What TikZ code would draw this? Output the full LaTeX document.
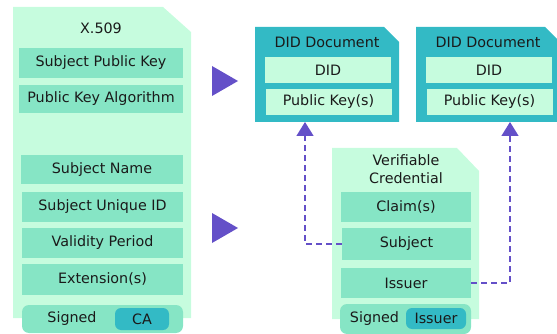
\documentclass[tikz,border=0pt]{standalone}
\usepackage{fontspec}
\setmainfont{DejaVu Sans}
\usetikzlibrary{arrows.meta}

\definecolor{palegreen}{HTML}{C6FCDE}
\definecolor{midgreen}{HTML}{86E5C5}
\definecolor{didteal}{HTML}{33BAC5}
\definecolor{linkpurple}{HTML}{6450C8}
\definecolor{inkgrey}{HTML}{1A1A1A}

\tikzset{
  field/.style={fill=midgreen,text=inkgrey,inner sep=0pt,minimum height=30pt},
  didfield/.style={fill=palegreen,text=inkgrey,inner sep=0pt,minimum width=126pt,minimum height=26pt},
  signbar/.style={fill=midgreen,rounded corners=7pt,inner sep=0pt,minimum height=28pt},
  signtag/.style={fill=didteal,text=inkgrey,rounded corners=6pt,inner sep=0pt,minimum height=22pt},
  link/.style={draw=linkpurple,line width=1.4pt,dash pattern=on 6pt off 4pt,
    -{Triangle[width=17pt,length=14pt]}},
}

\begin{document}
\begin{tikzpicture}[x=1pt,y=-1pt,font=\fontsize{14.3}{17}\selectfont,text=inkgrey]

        \useasboundingbox (0,0) rectangle (557,334);
        \clip (0,0) rectangle (557,334);

        % documents
        \fill[palegreen] (13,7) -- (163,7) -- (191,32) -- (191,318) -- (13,318) -- cycle;
        \fill[didteal] (255,27) -- (384,27) -- (399,42) -- (399,122) -- (255,122) -- cycle;
        \fill[didteal] (416,27) -- (545,27) -- (560,42) -- (560,122) -- (416,122) -- cycle;
        \fill[palegreen] (332,148) -- (457,148) -- (479,171) -- (479,319) -- (332,319) -- cycle;

        % X.509 certificate
        \node (x509) at (101,28) {X.509};
        \begin{scope}[every node/.style={field}]
          \node[minimum width=164pt] (spk)  at (101,63)    {Subject Public Key};
          \node[minimum width=164pt,minimum height=28pt] (pka) at (101,99) {Public Key Algorithm};
          \node[minimum width=162pt,minimum height=29pt] (sn) at (102,169.5) {Subject Name};
          \node[minimum width=161pt] (suid) at (102.5,207) {Subject Unique ID};
          \node[minimum width=161pt] (vp)   at (102.5,243) {Validity Period};
          \node[minimum width=161pt,minimum height=31pt] (ext) at (102.5,279.5) {Extension(s)};
        \end{scope}
        \node[signbar,minimum width=161pt] (sig1) at (102.5,319) {};
        \node (sigtxt1) at (72,319) {Signed};
        \node[signtag,minimum width=54pt] (ca) at (142,319) {CA};

        % DID documents
        \node (didtitle1) at (327,42) {DID Document};
        \node (didtitle2) at (488,42) {DID Document};
        \begin{scope}[every node/.style={didfield}]
          \node (did1) at (328,70)    {DID};
          \node (pk1)  at (328.5,102) {Public Key(s)};
          \node (did2) at (489,70)    {DID};
          \node (pk2)  at (489.5,102) {Public Key(s)};
        \end{scope}
        \coordinate (doc1s) at (305,122);
        \coordinate (doc2s) at (510,122);

        % verifiable credential
        \node[align=center,font=\fontsize{14.3}{18}\selectfont] (vc) at (406,169) {Verifiable\\Credential};
        \begin{scope}[every node/.style={field}]
          \node[minimum width=130pt] (claim) at (406,207)   {Claim(s)};
          \node[minimum width=129pt,minimum height=32pt] (subj) at (406.5,244) {Subject};
          \node[minimum width=130pt] (iss)   at (406,283)   {Issuer};
        \end{scope}
        \node[signbar,minimum width=131pt,minimum height=30pt] (sig2) at (405.5,319) {};
        \node (sigtxt2) at (374.5,319) {Signed};
        \node[signtag,minimum width=60pt,minimum height=21pt] (issuer) at (436,318.5) {Issuer};

        % mapping arrows
        \fill[linkpurple] (212,66) -- (238,81) -- (212,96) -- cycle;
        \fill[linkpurple] (212,213) -- (238,228) -- (212,243) -- cycle;

        \path[link] (subj.west) -| (doc1s);
        \path[link] (iss.east) -| (doc2s);

      \end{tikzpicture}
\end{document}
